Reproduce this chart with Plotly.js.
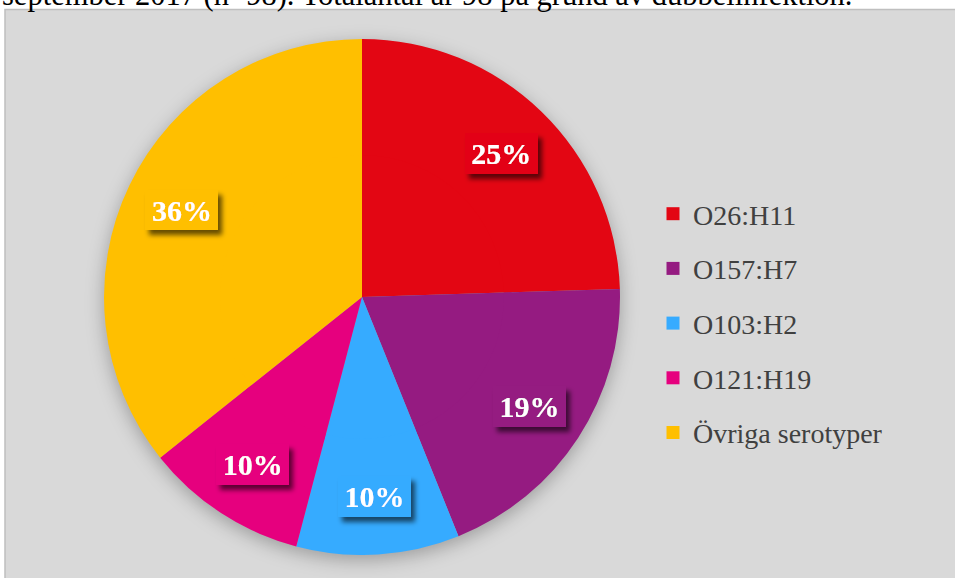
<!DOCTYPE html>
<html>
<head>
<meta charset="utf-8">
<script src="https://cdn.plot.ly/plotly-3.0.1.min.js"></script>
<style>
  html, body { margin: 0; padding: 0; background: #ffffff; }
  #chart { width: 955px; height: 578px; }
  .pielayer { filter: drop-shadow(0px 5px 9px rgba(0,0,0,0.28)); }
</style>
</head>
<body>
<svg width="0" height="0" style="position:absolute">
  <defs id="labeldefs"></defs>
</svg>
<div id="chart"></div>
<script>
// ---- data ----
const categories = ["O26:H11", "O157:H7", "O103:H2", "O121:H19", "Övriga serotyper"];
const shares = [24.5, 19.4, 10.2, 10.2, 35.7];   // percent of cases
const colors = ["#E30613", "#951B81", "#36ABFF", "#E6007E", "#FFBF00"];
const titleText = "september 2017 (n=98). Totalantal är 98 på grund av dubbelinfektion.";

// ---- label box filters (box in slice colour with drop shadow) ----
const defs = document.getElementById("labeldefs");
const NS = "http://www.w3.org/2000/svg";
colors.forEach((c, i) => {
  const f = document.createElementNS(NS, "filter");
  f.setAttribute("id", "lbl" + i);
  f.setAttribute("primitiveUnits", "objectBoundingBox");
  f.setAttribute("x", "-0.4"); f.setAttribute("y", "-0.5");
  f.setAttribute("width", "1.8"); f.setAttribute("height", "2.0");
  f.innerHTML =
    '<feFlood x="-0.1" y="-0.1" width="1.2" height="1.2" flood-color="#000" flood-opacity="0.6" result="sh"/>' +
    '<feOffset in="sh" dx="0.06" dy="0.14" x="-0.4" y="-0.5" width="1.8" height="2.0" result="sho"/>' +
    '<feGaussianBlur in="sho" stdDeviation="0.04 0.08" x="-0.4" y="-0.5" width="1.8" height="2.0" result="blur"/>' +
    '<feFlood x="-0.1" y="-0.1" width="1.2" height="1.2" flood-color="' + c + '" result="box"/>' +
    '<feMerge x="-0.4" y="-0.5" width="1.8" height="2.0"><feMergeNode in="blur"/><feMergeNode in="box"/><feMergeNode in="SourceGraphic"/></feMerge>';
  defs.appendChild(f);
});

const W = 955, H = 578;
const CX = 362, CY = 297, R = 258;
const HOLE = 0.55;
const rIn = R * (HOLE + 0.03);

function dom(r) {
  return { x: [(CX - r) / W, (CX + r) / W], y: [1 - (CY + r) / H, 1 - (CY - r) / H] };
}

// inner filled pie (same data) beneath the outer ring, so the whole pie is solid
const pieInner = {
  type: "pie",
  labels: categories,
  values: shares,
  sort: false,
  direction: "clockwise",
  rotation: 0,
  marker: { colors: colors, line: { width: 0 } },
  textinfo: "none",
  hoverinfo: "none",
  showlegend: false,
  domain: dom(rIn)
};

// outer ring carries the percentage labels (placed mid-ring by Plotly)
const pieOuter = {
  type: "pie",
  labels: categories,
  values: shares,
  sort: false,
  direction: "clockwise",
  rotation: 0,
  hole: HOLE,
  marker: { colors: colors, line: { width: 0 } },
  textposition: "inside",
  insidetextorientation: "horizontal",
  texttemplate: "%{value:.0f}%",
  textfont: { family: "Liberation Serif", size: 30, color: "#ffffff", weight: "bold" },
  hoverinfo: "none",
  showlegend: false,
  domain: dom(R)
};

// legend entries (one per category, same colours)
const legendTraces = categories.map((name, i) => ({
  type: "scatter",
  mode: "markers",
  x: [null], y: [null],
  name: name,
  legendgroup: "g" + i,
  marker: { symbol: "square", size: 13, color: colors[i] },
  hoverinfo: "none",
  showlegend: true
}));

const layout = {
  width: W, height: H,
  margin: { l: 0, r: 0, t: 0, b: 0 },
  paper_bgcolor: "#ffffff",
  plot_bgcolor: "rgba(0,0,0,0)",
  xaxis: { visible: false },
  yaxis: { visible: false },
  showlegend: true,
  legend: {
    x: 653 / W, xanchor: "left",
    y: 1 - 189 / H, yanchor: "top",
    bgcolor: "rgba(0,0,0,0)",
    font: { family: "Liberation Serif", size: 28, color: "#404040" },
    tracegroupgap: 15.3,
    traceorder: "grouped",
    itemclick: false, itemdoubleclick: false
  },
  shapes: [{
    type: "rect", xref: "paper", yref: "paper", layer: "below",
    x0: 5 / W, x1: 1.02, y0: -0.02, y1: 1 - 9.5 / H,
    fillcolor: "#D9D9D9", line: { color: "#BFBFBF", width: 1.5 }
  }],
  annotations: [{
    text: titleText, xref: "paper", yref: "paper",
    x: 0, xanchor: "left", y: 1 + 5 / H, yanchor: "middle",
    showarrow: false,
    font: { family: "Liberation Serif", size: 30.5, color: "#000000" }
  }]
};

Plotly.newPlot("chart", [pieInner, pieOuter].concat(legendTraces), layout, { displayModeBar: false, staticPlot: true })
  .then(gd => {
    gd.querySelectorAll(".pielayer .trace").forEach(tr => {
      tr.querySelectorAll(".slice").forEach((s, i) => {
        const t = s.querySelector(".slicetext text");
        if (t) t.setAttribute("filter", "url(#lbl" + i + ")");
      });
    });
  });
</script>
</body>
</html>
